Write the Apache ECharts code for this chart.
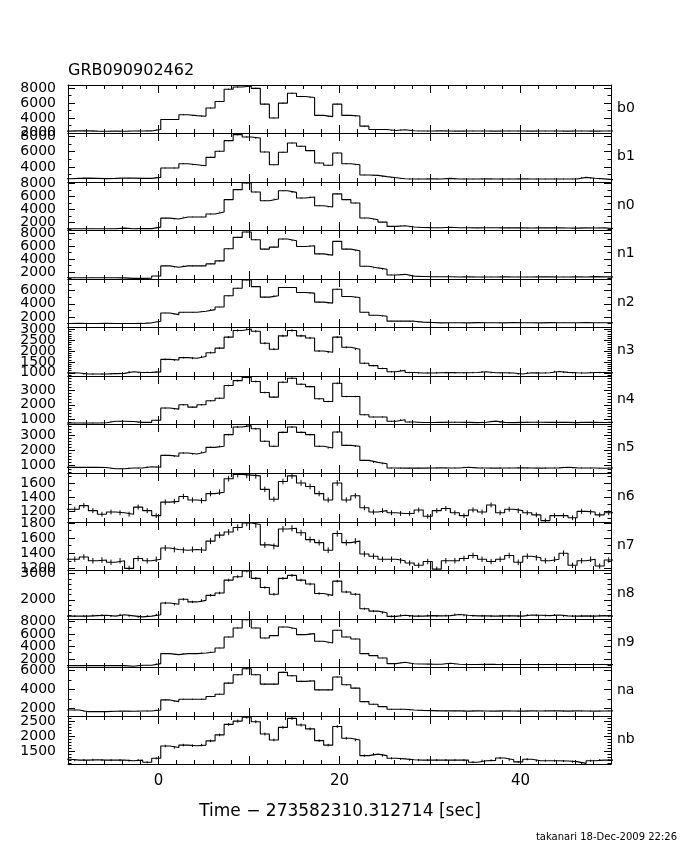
<!DOCTYPE html>
<html><head><meta charset="utf-8">
<script src="https://cdn.jsdelivr.net/npm/echarts@6/dist/echarts.min.js"></script>
<style>html,body{margin:0;padding:0;background:#fff}#c{width:680px;height:850px}</style>
</head><body><div id="c"></div>
<script>
const chartTitle = 'GRB090902462';
const xTitle = 'Time \u2212 273582310.312714 [sec]';
const footer = 'takanari 18-Dec-2009 22:26';
const detectors = ['b0','b1','n0','n1','n2','n3','n4','n5','n6','n7','n8','n9','na','nb'];
const xTickLabels = [0, 20, 40];
// bin centres (1 s bins)
const binCenters = [-10.25,-9.25,-8.25,-7.25,-6.25,-5.25,-4.25,-3.25,-2.25,-1.25,-0.25,
  0.75,1.75,2.75,3.75,4.75,5.75,6.75,7.75,8.75,9.75,10.75,11.75,12.75,13.75,14.75,15.75,16.75,17.75,18.75,19.75,20.75,21.75,22.75,23.75,24.75,25.75,26.75,
  27.75,28.75,29.75,30.75,31.75,32.75,33.75,34.75,35.75,36.75,37.75,38.75,39.75,40.75,41.75,42.75,43.75,44.75,45.75,46.75,47.75,48.75,49.75];
const binWidth = 1;

const rate_b0 = [2220,2260,2250,2220,2210,2230,2200,2240,2230,2250,2440,
  3780,3780,4440,4310,4220,5330,6220,7860,8170,8300,7990,5860,4000,6000,7330,6880,6750,4350,4180,5860,4350,4260,2890,2440,2440,2310,2400,
  2270,2230,2240,2250,2230,2220,2230,2240,2230,2220,2230,2240,2230,2220,2240,2230,2230,2220,2240,2230,2220,2230,2240];
const rate_b1 = [2490,2530,2560,2530,2500,2530,2570,2560,2530,2530,2660,
  3870,3870,4430,4300,4170,5250,6030,7410,8190,7880,7750,5940,4300,5900,7110,6680,6120,4520,4220,5810,4430,4300,2970,2920,2750,2620,2490,
  2450,2450,2460,2450,2530,2450,2450,2450,2460,2450,2450,2450,2460,2450,2450,2450,2450,2450,2450,2660,2540,2460,2370];
const rate_n0 = [1010,1000,1010,1000,1000,1000,1100,1010,1050,1020,1260,
  2660,2510,2820,2820,2820,3290,3600,5520,7070,8100,6710,5360,5620,6910,6650,5770,5930,4580,4370,6420,5520,5000,2670,2410,2040,1370,1470,
  1270,1200,1180,1170,1230,1160,1150,1140,1150,1150,1140,1150,1140,1130,1140,1150,1140,1130,1100,1140,1130,1140,1050];
const rate_n1 = [1110,1110,1110,1100,1110,1110,1080,1010,1010,1050,1370,
  2930,2720,2930,2930,2930,3240,3700,5570,7330,8160,6970,5520,5830,7070,6810,5930,6040,4790,4590,6710,5520,5260,2880,2620,2410,1530,1630,
  1350,1300,1250,1250,1250,1230,1250,1220,1210,1230,1250,1230,1220,1230,1250,1240,1220,1230,1240,1230,1280,1240,1230];
const rate_n2 = [1030,1040,1030,1030,1040,1030,1020,1030,1040,1130,1380,
  2620,2370,2720,2720,2870,3120,3520,5210,6360,7600,6600,5010,5210,6460,6460,5710,5610,4260,4110,6210,5110,4960,2720,2270,2120,1380,1380,
  1380,1230,1180,1130,1150,1150,1130,1160,1150,1150,1130,1170,1150,1150,1130,1160,1150,1150,1140,1160,1150,1140,1150];
const rate_n3 = [1000,990,940,940,940,960,970,1050,1010,1020,1040,
  1620,1590,1700,1670,1750,1930,2140,2650,2960,3030,2920,2370,2090,2710,2960,2710,2610,2010,1950,2650,2180,2090,1440,1330,1200,1050,1110,
  1010,990,990,1000,1010,1000,1000,1010,1050,1000,1000,990,940,1000,990,1000,1060,1020,1000,990,1010,1010,1000];
const rate_n4 = [780,780,780,780,790,890,890,880,820,820,960,
  1780,1710,2000,1840,2000,2270,2440,3290,3620,3840,3560,2820,2510,3510,3780,3380,3220,2400,2220,3440,2550,2550,1330,1180,1180,890,1000,
  840,810,810,820,830,830,820,800,830,900,820,800,820,830,830,820,820,820,800,830,820,810,830];
const rate_n5 = [890,890,890,890,880,800,800,850,850,930,900,
  1680,1620,1840,1770,1900,2210,2280,3050,3550,3640,3440,2610,2280,3200,3550,3200,3050,2280,2170,3220,2340,2280,1350,1220,1130,850,840,
  850,840,850,860,850,850,900,860,850,840,850,850,860,850,840,850,860,900,860,850,850,830,850];
const rate_n6 = [1230,1230,1280,1210,1160,1190,1180,1160,1260,1210,1140,
  1330,1340,1410,1360,1350,1450,1470,1660,1720,1710,1700,1510,1370,1620,1700,1600,1550,1450,1360,1600,1360,1420,1250,1190,1210,1180,1170,
  1170,1220,1130,1210,1240,1180,1140,1220,1190,1290,1180,1230,1210,1180,1150,1070,1140,1140,1110,1200,1190,1150,1180];
const rate_n7 = [1320,1320,1350,1300,1310,1280,1300,1200,1330,1300,1320,
  1470,1450,1440,1450,1440,1560,1640,1680,1740,1800,1780,1510,1490,1720,1730,1670,1580,1540,1440,1660,1540,1560,1390,1360,1320,1320,1300,
  1270,1240,1290,1190,1300,1300,1330,1370,1320,1290,1320,1370,1280,1360,1340,1300,1320,1400,1240,1300,1320,1230,1310];
const rate_n8 = [1380,1380,1380,1400,1410,1380,1430,1390,1350,1380,1430,
  1880,1830,2020,1920,1980,2170,2260,2750,2880,3100,2815,2470,2210,2815,2930,2750,2600,2240,2170,2710,2300,2210,1660,1570,1510,1370,1410,
  1380,1380,1400,1390,1400,1440,1410,1390,1390,1380,1390,1390,1380,1420,1410,1400,1420,1390,1380,1390,1380,1400,1380];
const rate_n9 = [950,950,950,950,950,950,950,850,1000,1000,1270,
  2860,2700,2860,2860,2960,3120,3760,5510,6940,8260,6940,5350,5720,7100,6830,5880,6040,4820,4550,6570,5510,5190,2860,2540,2170,1270,1480,
  1240,1200,1180,1170,1330,1170,1120,1130,1160,1140,1130,1120,1130,1120,1130,1120,1130,1120,1130,1120,1130,1120,1100];
const rate_na = [1820,1820,1640,1640,1640,1680,1710,1680,1710,1710,1820,
  2890,2710,2960,2960,2960,3250,3500,4680,5570,6210,5570,4570,4570,5820,5460,4860,4930,3960,3960,5320,4500,4140,2710,2430,2180,1890,1890,
  1820,1780,1750,1720,1720,1720,1700,1720,1710,1700,1720,1710,1700,1720,1710,1720,1720,1700,1720,1710,1700,1710,1720];
const rate_nb = [1250,1220,1220,1230,1220,1220,1220,1200,1220,1150,1280,
  1690,1640,1720,1700,1720,1860,2060,2410,2520,2650,2500,2090,1890,2310,2610,2390,2260,1870,1720,2340,1950,1890,1370,1420,1370,1280,1260,
  1230,1220,1220,1220,1220,1220,1220,1150,1200,1210,1290,1230,1160,1250,1200,1200,1200,1190,1170,1110,1200,1220,1220];

const rates = [rate_b0,rate_b1,rate_n0,rate_n1,rate_n2,rate_n3,rate_n4,rate_n5,rate_n6,rate_n7,rate_n8,rate_n9,rate_na,rate_nb];
// axis ranges and label steps per panel
const yMin = [1970,2060,810,910,500,850,710,520,1050,1178,1270,730,1180,1090];
const yMax = [8440,8400,8260,8470,7750,3120,3930,3750,1740,1813,3135,8370,6390,2690];
const yLabelStep = [2000,2000,2000,2000,2000,500,1000,1000,200,200,1000,2000,2000,500];
const ySplit = [4,4,4,4,4,4,3,3,3,3,2,4,3,3];
const yMinorSplit = [2,2,2,2,2,5,5,5,2,2,5,2,2,5];

// layout
const FONT = 'DejaVu Sans';
const panelEdges = [85,133,182,230,279,327,376,424,473,522,570,619,667,716,764];
const gridLeft = 68, gridWidth = 543;

const grids = [], xAxes = [], yAxes = [], series = [], graphics = [];
const n = detectors.length;
for (let i = 0; i < n; i++) {
  const top = panelEdges[i], h = panelEdges[i+1] - panelEdges[i];
  grids.push({left: gridLeft, width: gridWidth, top: top, height: h, outerBoundsMode: 'none', containLabel: false});
  const xCommon = {
    type: 'value', gridIndex: i, min: -10, max: 50, interval: 10,
    axisLine: {show: true, onZero: false, lineStyle: {color: '#000', width: 1}},
    axisTick: {show: true, inside: true, length: 8, lineStyle: {color: '#000'}},
    minorTick: {show: true, splitNumber: 5, length: 4, lineStyle: {color: '#000'}},
    splitLine: {show: false}
  };
  xAxes.push(Object.assign({}, xCommon, {position: 'bottom',
    axisLabel: {show: i === n - 1, margin: 10, color: '#000', fontFamily: FONT, fontSize: 15,
      formatter: v => xTickLabels.indexOf(v) >= 0 ? String(v) : ''}}));
  xAxes.push(Object.assign({}, xCommon, {position: 'top', axisLabel: {show: false}}));
  const step = yLabelStep[i];
  const yCommon = {
    type: 'value', gridIndex: i, min: yMin[i], max: yMax[i], splitNumber: ySplit[i],
    axisLine: {show: true, onZero: false, lineStyle: {color: '#000', width: 1}},
    axisTick: {show: true, inside: true, length: 7, lineStyle: {color: '#000'}},
    minorTick: {show: true, splitNumber: yMinorSplit[i], length: 3.5, lineStyle: {color: '#000'}},
    splitLine: {show: false}
  };
  yAxes.push(Object.assign({}, yCommon, {position: 'left',
    axisLabel: {show: true, margin: 12, color: '#000', fontFamily: FONT, fontSize: 14,
      showMinLabel: false, showMaxLabel: false,
      formatter: v => (Math.abs(v / step - Math.round(v / step)) < 1e-6) ? String(Math.round(v)) : ''}}));
  yAxes.push(Object.assign({}, yCommon, {position: 'right', axisLabel: {show: false}}));

  const vals = rates[i];
  const stepData = vals.map((v, k) => [binCenters[k] - binWidth / 2, v]);
  stepData.push([binCenters[vals.length - 1] + binWidth / 2, vals[vals.length - 1]]);
  series.push({
    type: 'line', xAxisIndex: 2 * i, yAxisIndex: 2 * i, data: stepData, step: 'end',
    showSymbol: false, symbol: 'none', clip: true, silent: true,
    lineStyle: {color: '#000', width: 1.1}
  });
  series.push({
    type: 'custom', xAxisIndex: 2 * i, yAxisIndex: 2 * i, clip: true, silent: true,
    data: vals.map((v, k) => [binCenters[k], v]),
    renderItem: function (params, api) {
      const x = api.value(0), v = api.value(1), e = Math.sqrt(v);
      const p1 = api.coord([x, v - e]), p2 = api.coord([x, v + e]);
      return {type: 'line', shape: {x1: p1[0], y1: p1[1], x2: p2[0], y2: p2[1]},
        style: {stroke: '#000', lineWidth: 1}};
    }
  });
  graphics.push({type: 'text', left: 617, top: top + h / 2 - 8,
    style: {text: detectors[i], fill: '#000', font: '14px "' + FONT + '"'}});
}
graphics.push({type: 'text', left: 68, top: 63,
  style: {text: chartTitle, fill: '#000', font: '16px "' + FONT + '"'}});
graphics.push({type: 'text', left: 'center', top: 803,
  style: {text: xTitle, fill: '#000', font: '17px "' + FONT + '"'}});
graphics.push({type: 'text', right: 3, top: 832,
  style: {text: footer, fill: '#000', font: '10px "' + FONT + '"'}});

const chart = echarts.init(document.getElementById('c'), null, {renderer: 'canvas'});
chart.setOption({
  animation: false, backgroundColor: '#fff',
  grid: grids, xAxis: xAxes, yAxis: yAxes, series: series, graphic: graphics
});
</script></body></html>
